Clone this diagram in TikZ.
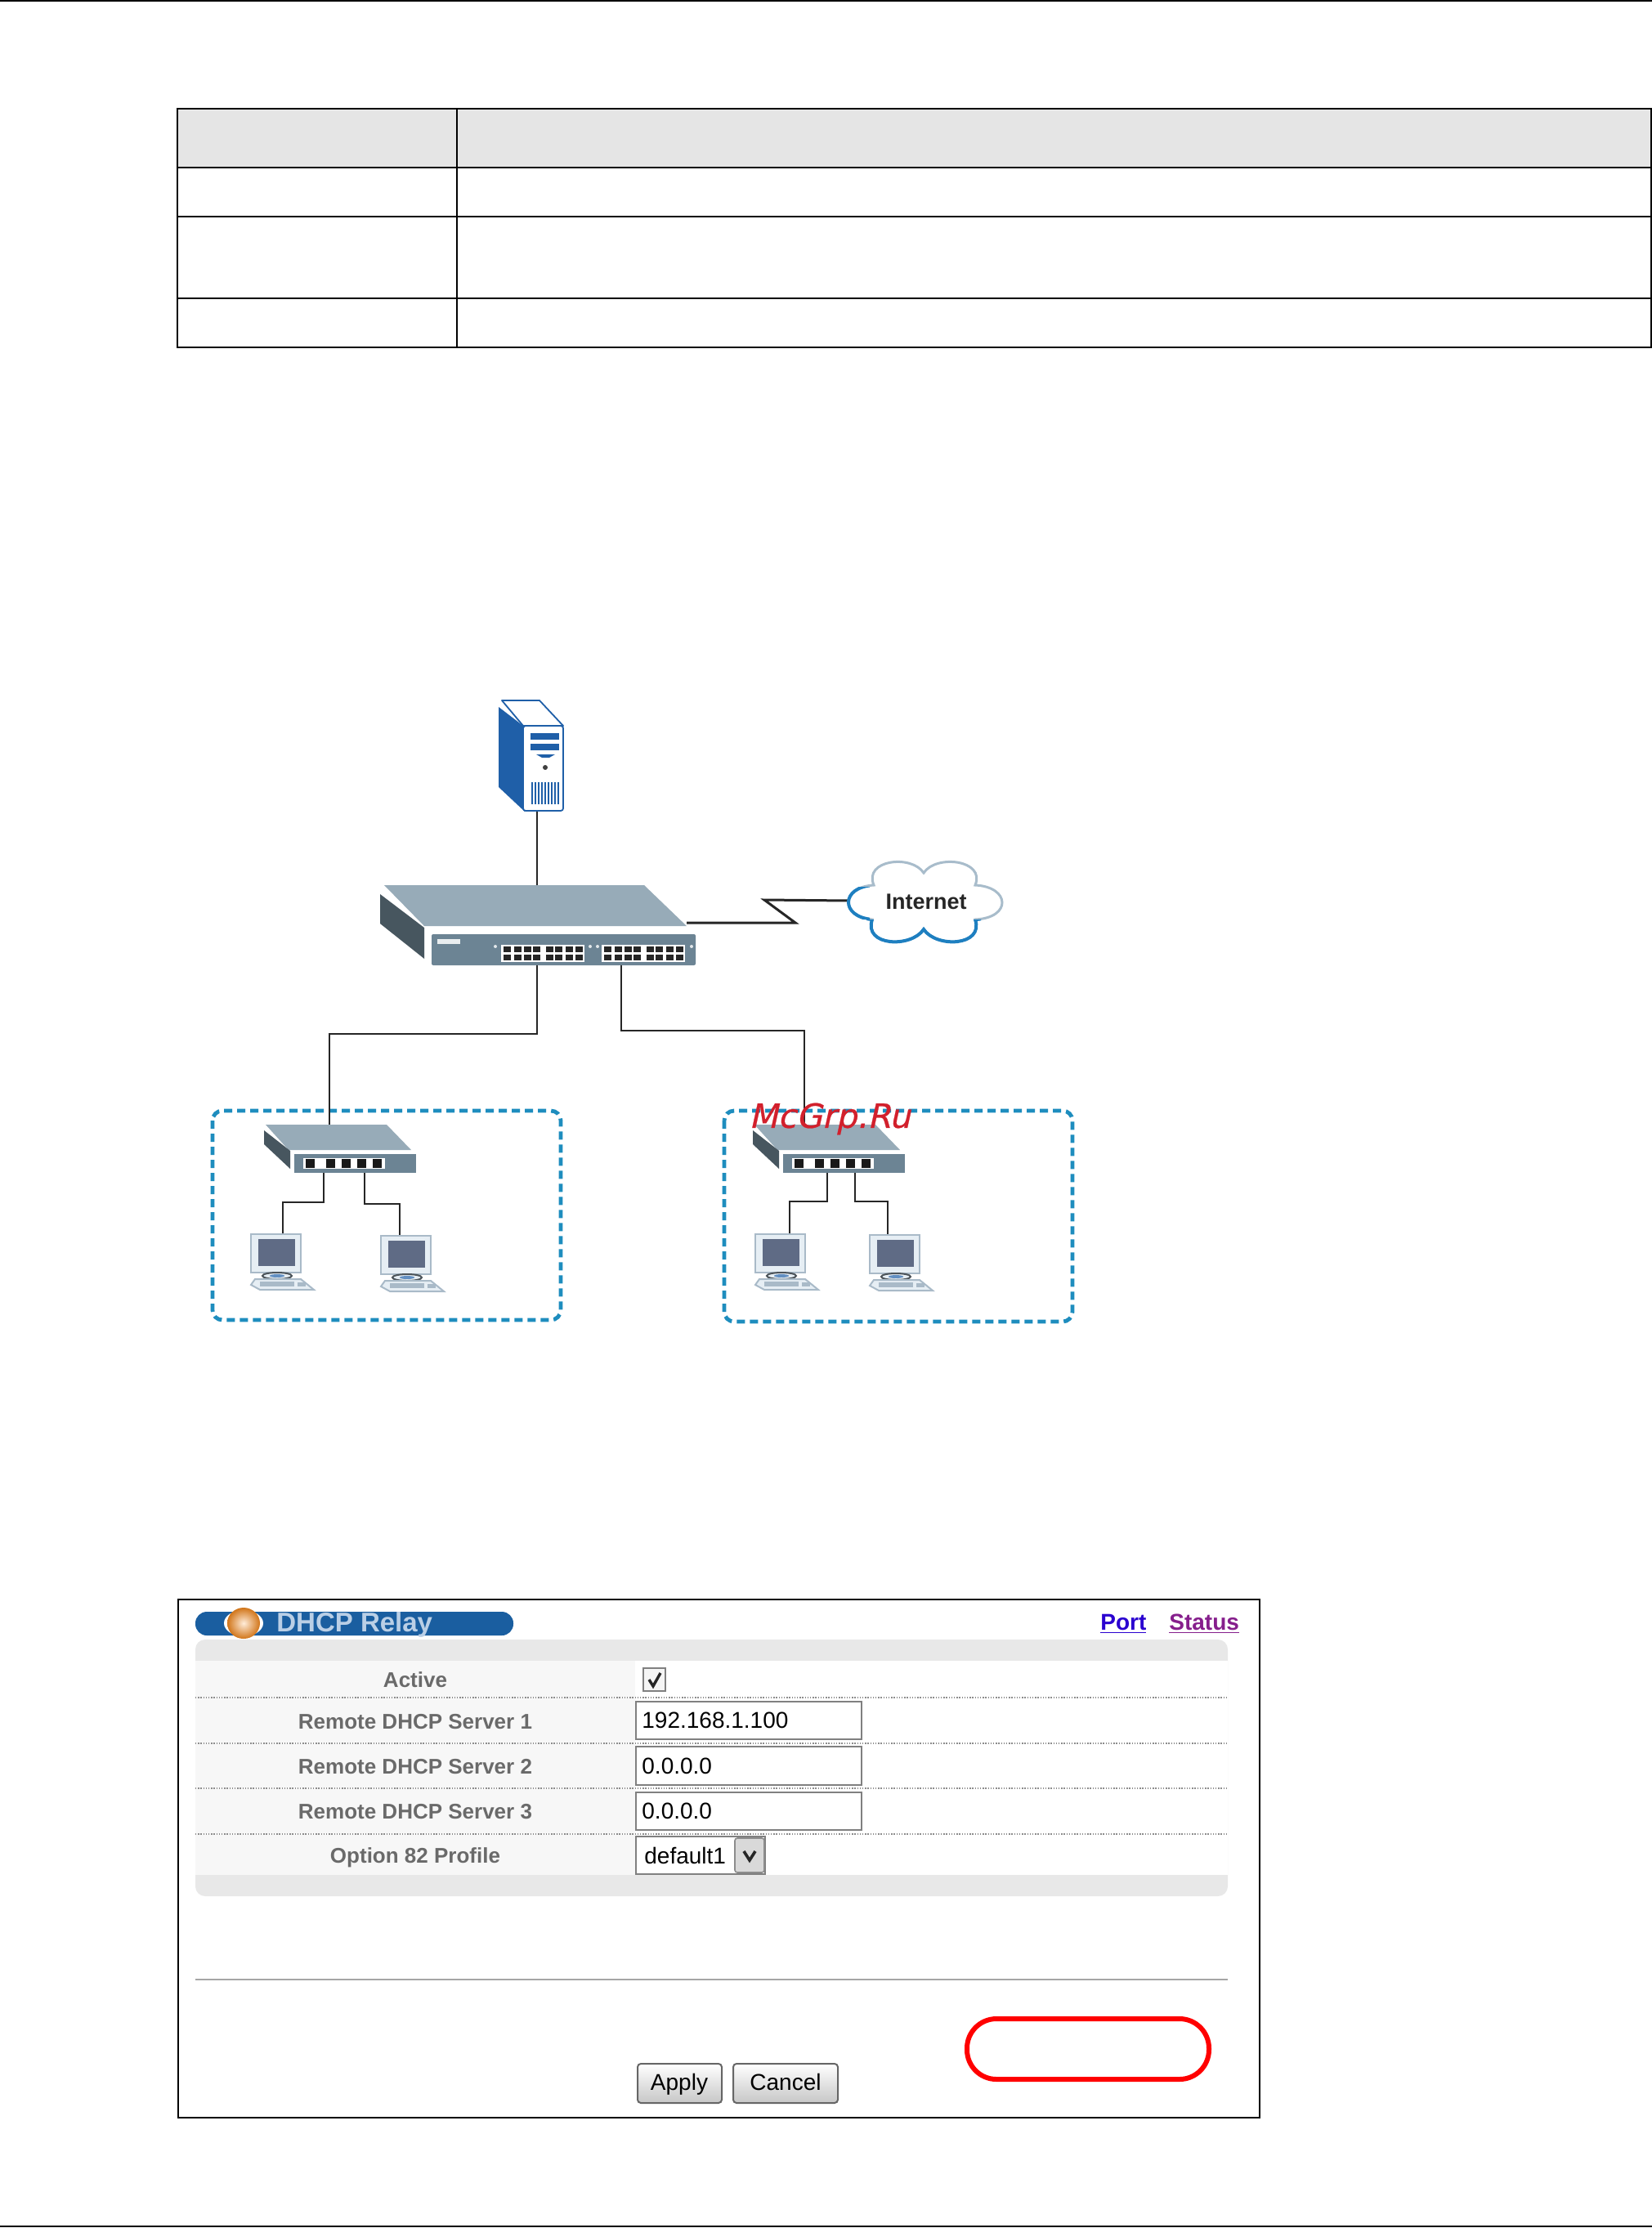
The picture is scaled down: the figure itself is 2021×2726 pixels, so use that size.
\documentclass[tikz,border=0pt]{standalone}
\usepackage{fontspec}
\setmainfont{Liberation Sans}
\newfontfamily\wmfont{DejaVu Sans}[FakeSlant=0.22,FakeBold=0.6]
\usetikzlibrary{calc}
\definecolor{hdrgray}{HTML}{E5E5E5}
\definecolor{swtop}{HTML}{97ABB8}
\definecolor{swside}{HTML}{47565F}
\definecolor{swfront}{HTML}{6C8494}
\definecolor{srvblue}{HTML}{1F5FA8}
\definecolor{lanblue}{HTML}{1E8DBE}
\definecolor{pcedge}{HTML}{A9BAC8}
\definecolor{pcscreen}{HTML}{5F6B85}
\definecolor{pcfill}{HTML}{E6EEF4}
\definecolor{cloudgray}{HTML}{A8BCCB}
\definecolor{cloudblue}{HTML}{1E7FC0}
\definecolor{titleblue}{HTML}{1A5EA0}
\definecolor{titletext}{HTML}{BACFE6}
\definecolor{panelgray}{HTML}{E8E8E8}
\definecolor{rowgray}{HTML}{F7F7F7}
\definecolor{labelgray}{HTML}{6A6A6A}
\definecolor{wmred}{HTML}{D2202C}
\definecolor{linkblue}{HTML}{2A00D0}
\definecolor{linkpurple}{HTML}{861F8C}
\tikzset{
  x=0.5pt,y=-0.5pt,
  rulebk/.style={draw=black,line width=1.3pt},
  cable/.style={draw=black!85,line width=1.3pt},
  wanlink/.style={draw=black!85,line width=1.5pt},
  lanbox/.style={draw=lanblue,line width=2.4pt,dash pattern=on 5pt off 3pt,rounded corners=6pt},
  dotrow/.style={draw=black!45,line width=0.6pt,dash pattern=on 0.7pt off 0.9pt},
  inputbox/.style={draw=black!50,fill=white,line width=1pt},
  formlabel/.style={anchor=base,inner sep=0pt,text=labelgray,font=\bfseries\fontsize{13}{13}\selectfont},
  forminput/.style={anchor=base west,inner sep=0pt,text=black,font=\fontsize{14}{14}\selectfont},
  linklabel/.style={anchor=base west,inner sep=0pt,font=\bfseries\fontsize{14}{14}\selectfont},
  btn/.style={draw=black!60,line width=1pt,rounded corners=2pt,top color=white,bottom color=black!22},
  btntext/.style={anchor=base,inner sep=0pt,text=black,font=\fontsize{14}{14}\selectfont},
}
% small switch drawn at the position of switch A
\newcommand{\smallsw}{%
  \fill[swtop] (325,1376)--(473,1376)--(503,1407)--(353,1407)--cycle;
  \fill[swside] (323,1383)--(355,1408)--(355,1430)--(323,1400)--cycle;
  \fill[swfront] (360,1412) rectangle (509,1435);
  \fill[white] (371,1417) rectangle (471,1430);
  \foreach \px in {379,404,423,442,461}{\fill[black!90] (\px-5.5,1418) rectangle (\px+5.5,1429);}
}
% computer drawn at the position of PC A1
\newcommand{\pcunit}{%
  \filldraw[fill=pcfill,draw=pcedge,line width=1pt] (307,1510) rectangle (368,1557);
  \fill[pcscreen] (316,1516) rectangle (361,1549);
  \filldraw[fill=pcfill,draw=black!55!pcedge,line width=1pt] (339,1561) ellipse (18 and 4);
  \fill[srvblue!70] (339,1561) ellipse (9 and 2);
  \filldraw[fill=pcfill,draw=pcedge,line width=1pt] (312,1565)--(368,1565)--(384,1578)--(318,1578)--(307,1572)--cycle;
  \fill[pcedge] (318,1568) rectangle (360,1574);
  \fill[pcedge] (364,1569) rectangle (374,1574);
}
\begin{document}
\begin{tikzpicture}
\useasboundingbox (0,0) rectangle (2021,2726);
\fill[white] (0,0) rectangle (2021,2726);
% page rules
\draw[rulebk] (0,1)--(2021,1);
\draw[rulebk] (0,2724)--(2021,2724);
% table
\fill[hdrgray] (217,133) rectangle (2020,205);
\draw[rulebk] (217,133) rectangle (2020,425);
\draw[rulebk] (217,205)--(2020,205);
\draw[rulebk] (217,265)--(2020,265);
\draw[rulebk] (217,365)--(2020,365);
\draw[rulebk] (559,133)--(559,425);
% anchor points for connectors
\coordinate (srvb) at (657,993);
\coordinate (swt) at (657,1083);
\coordinate (swb1) at (657,1181);
\coordinate (swb2) at (760,1181);
\coordinate (swr) at (840,1129);
\coordinate (cloudl) at (1039,1102);
\coordinate (swat) at (403,1377);
\coordinate (swbt) at (984,1377);
\coordinate (swab1) at (396,1435);
\coordinate (swab2) at (446,1435);
\coordinate (swbb1) at (1012,1435);
\coordinate (swbb2) at (1046,1435);
\coordinate (pca1) at (346,1510);
\coordinate (pca2) at (489,1517);
\coordinate (pcb1) at (966,1510);
\coordinate (pcb2) at (1086,1512);
% lan boxes
\draw[lanbox] (260,1359) rectangle (686,1615);
\draw[lanbox] (886,1359) rectangle (1312,1617);
% connectors
\draw[cable] (srvb)--(swt);
\draw[cable] (swb1)|-(swat |- 0,1265)--(swat);
\draw[cable] (swb2)|-(swbt |- 0,1261)--(swbt);
\draw[wanlink,line join=miter] (swr)--(973,1129)--(935,1101)--(cloudl);
\draw[cable] (swab1)|-(pca1 |- 0,1471)--(pca1);
\draw[cable] (swab2)|-(pca2 |- 0,1473)--(pca2);
\draw[cable] (swbb1)|-(pcb1 |- 0,1470)--(pcb1);
\draw[cable] (swbb2)|-(pcb2 |- 0,1470)--(pcb2);
% server
\fill[srvblue] (610,865)--(640,888)--(642,993)--(610,963)--cycle;
\filldraw[fill=white,draw=srvblue,line width=0.9pt,line join=round] (614,857)--(660,857)--(689,888)--(640,888)--cycle;
\filldraw[fill=white,draw=srvblue,line width=0.9pt,rounded corners=1.5pt] (640,888) rectangle (689,992);
\fill[srvblue] (649,897) rectangle (684,905);
\fill[srvblue] (649,910) rectangle (684,918);
\fill[srvblue] (656,923)--(679,923)--(672,927)--(663,927)--cycle;
\fill[black!75] (667,939) circle (3);
\foreach \gx in {650,654,...,682}{\fill[srvblue] (\gx,957) rectangle (\gx+2,984);}
% main switch
\fill[swtop] (470,1083)--(788,1083)--(840,1133)--(519,1133)--cycle;
\fill[swside] (465,1094)--(519,1135)--(519,1173)--(465,1130)--cycle;
\fill[swfront,rounded corners=1pt] (528,1143) rectangle (851,1181);
\fill[white!85!swfront] (535,1149) rectangle (563,1155);
\foreach \bx in {0,123}{
  \fill[white] (613+\bx,1156) rectangle (715+\bx,1177);
  \foreach \px in {620,633,645,656,672,683,696,708}{
    \fill[black!85] (\px+\bx-4.5,1158) rectangle (\px+\bx+4.5,1165);
    \fill[black!85] (\px+\bx-4.5,1168) rectangle (\px+\bx+4.5,1175);
  }
}
\foreach \lx in {606,722,731,846}{\fill[white!80!swfront] (\lx,1158) circle (2);}
% cloud
\def\cloudpath{(1069,1083) .. controls (1056,1052) and (1115,1045) .. (1130,1068) .. controls (1145,1045) and (1206,1052) .. (1193,1083) .. controls (1236,1085) and (1238,1123) .. (1193,1125) .. controls (1204,1158) and (1145,1160) .. (1130,1137) .. controls (1115,1160) and (1056,1158) .. (1067,1125) .. controls (1028,1122) and (1028,1085) .. (1069,1083) -- cycle}
\filldraw[fill=white,draw=cloudgray,line width=1.5pt] \cloudpath;
\begin{scope}
\clip (1030,1085) rectangle (1064,1125) (1060,1125) rectangle (1200,1160);
\draw[cloudblue,line width=2pt] \cloudpath;
\end{scope}
\node[inner sep=0pt,font=\bfseries\fontsize{13.5}{13.5}\selectfont,text=black!85] (inet) at (1133,1103) {Internet};
% small switches
\smallsw
\begin{scope}[shift={(598,0)}]\smallsw\end{scope}
% computers
\pcunit
\begin{scope}[shift={(159,2)}]\pcunit\end{scope}
\begin{scope}[shift={(617,0)}]\pcunit\end{scope}
\begin{scope}[shift={(757,1)}]\pcunit\end{scope}
% watermark
\node[inner sep=0pt,anchor=center,text=wmred] (wm) at (1015,1369) {\wmfont\fontsize{20.4}{20.4}\selectfont McGrp.Ru};
% screenshot frame
\draw[rulebk] (218,1957) rectangle (1541,2591);
% title pill
\fill[titleblue,rounded corners=7pt] (239,1972) rectangle (628,2001);
\fill[white] (298,1986) ellipse (24 and 16);
\shade[inner color=orange!15!white,outer color=orange!80!black!90] (298,1986) ellipse (20 and 19);
\node[inner sep=0pt,anchor=base west,text=titletext,font=\bfseries\fontsize{16.5}{16.5}\selectfont] (title) at (338,1996) {DHCP Relay};
\node[linklabel,text=linkblue] (lport) at (1346,1994) {\underline{Port}};
\node[linklabel,text=linkpurple] (lstatus) at (1430,1994) {\underline{Status}};
% panel
\fill[panelgray,rounded corners=6pt] (239,2006) rectangle (1502,2320);
\fill[rowgray] (239,2032) rectangle (777,2294);
\fill[white] (777,2032) rectangle (1502,2294);
\foreach \ry in {2077,2133,2188,2244}{\draw[dotrow] (239,\ry)--(1502,\ry);}
\node[formlabel] (l1) at (508,2064) {Active};
\node[formlabel] (l2) at (508,2115) {Remote DHCP Server 1};
\node[formlabel] (l3) at (508,2170) {Remote DHCP Server 2};
\node[formlabel] (l4) at (508,2225) {Remote DHCP Server 3};
\node[formlabel] (l5) at (508,2279) {Option 82 Profile};
% checkbox
\draw[inputbox,fill=black!4,line width=1.2pt] (787,2041) rectangle (814,2069);
\draw[black!85,line width=1.7pt] (794,2055)--(799,2063)--(808,2047);
% inputs
\draw[inputbox] (778,2082) rectangle (1054,2128);
\draw[inputbox] (778,2137) rectangle (1054,2184);
\draw[inputbox] (778,2193) rectangle (1054,2239);
\node[forminput] (v1) at (785,2114) {192.168.1.100};
\node[forminput] (v2) at (785,2170) {0.0.0.0};
\node[forminput] (v3) at (785,2225) {0.0.0.0};
% select
\draw[inputbox] (778,2247) rectangle (936,2293);
\node[forminput] (v4) at (788,2280) {default1};
\filldraw[fill=black!15,draw=black!45,line width=0.8pt,rounded corners=1.5pt] (899,2249) rectangle (935,2291);
\draw[black!85,line width=1.8pt] (910,2265)--(917,2276)--(924,2265);
% separator
\draw[black!35,line width=1pt] (239,2422)--(1502,2422);
% buttons
\path[btn] (780,2525) rectangle (883,2573);
\path[btn] (897,2525) rectangle (1025,2573);
\node[btntext] (bapply) at (831,2557) {Apply};
\node[btntext] (bcancel) at (961,2557) {Cancel};
% red highlight
\draw[red,line width=3pt,rounded corners=18pt] (1183,2470) rectangle (1479,2544);
\end{tikzpicture}
\end{document}
